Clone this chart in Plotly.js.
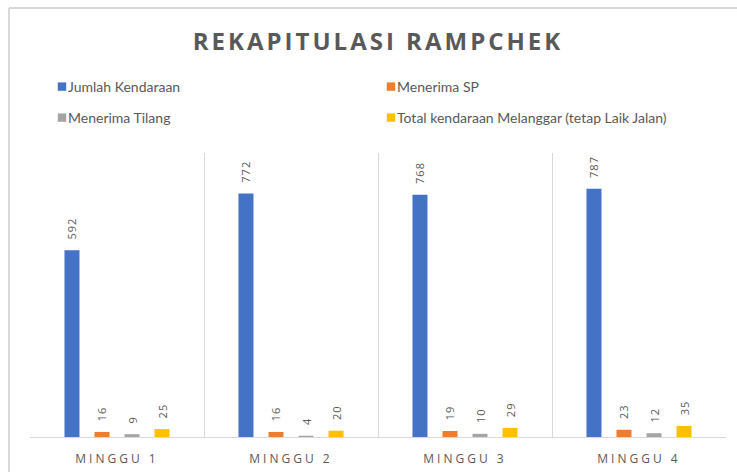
<!DOCTYPE html>
<html>
<head>
<meta charset="utf-8">
<script src="https://cdn.plot.ly/plotly-3.0.1.min.js"></script>
<style>
  html, body { margin: 0; padding: 0; background: #fff; }
  #chart { width: 737px; height: 472px; }
  .gtitle { letter-spacing: 3px; }
  .xtick text { letter-spacing: 3px; }
  text.bartext { letter-spacing: 1px; }
  .legendpoints { transform-box: fill-box; transform-origin: center; transform: translate(14px, 0px) scale(0.7); }
</style>
</head>
<body>
<div id="chart"></div>
<script>
const categories = ["MINGGU 1", "MINGGU 2", "MINGGU 3", "MINGGU 4"];
const seriesNames = ["Jumlah Kendaraan", "Menerima SP", "Menerima Tilang", "Total kendaraan Melanggar (tetap Laik Jalan)"];
const jumlahKendaraan = [592, 772, 768, 787];
const menerimaSP = [16, 16, 19, 23];
const menerimaTilang = [9, 4, 10, 12];
const totalMelanggar = [25, 20, 29, 35];
const colors = ["#4472C4", "#ED7D31", "#A5A5A5", "#FFC000"];
const legendIds = ["legend", "legend", "legend2", "legend2"];

const seriesValues = [jumlahKendaraan, menerimaSP, menerimaTilang, totalMelanggar];
const labelFont = { family: "Open Sans, sans-serif", size: 11, color: "#595959" };

const traces = seriesValues.map((vals, i) => ({
  type: "bar",
  name: seriesNames[i],
  x: categories,
  y: vals,
  marker: { color: colors[i] },
  text: vals.map(v => "\u00a0\u00a0" + v),
  textposition: "outside",
  textangle: -90,
  textfont: labelFont,
  constraintext: "none",
  cliponaxis: false,
  legend: legendIds[i],
  hoverinfo: "x+y+name"
}));

const W = 737, H = 472;
const m = { l: 30, r: 11, t: 153, b: 35 };
const pw = W - m.l - m.r, ph = H - m.t - m.b;
const px = x => (x - m.l) / pw;
const py = y => (H - m.b - y) / ph;

const legendCommon = {
  orientation: "h",
  xanchor: "left",
  yanchor: "middle",
  x: px(28),
  font: { family: "Lato, sans-serif", size: 14, color: "#595959" },
  entrywidth: 284,
  entrywidthmode: "pixels",
  bgcolor: "rgba(0,0,0,0)",
  itemclick: false
};

const layout = {
  width: W, height: H,
  margin: m,
  paper_bgcolor: "#fff",
  plot_bgcolor: "#fff",
  title: {
    text: "REKAPITULASI RAMPCHEK",
    font: { family: "Open Sans, sans-serif", size: 24, weight: 700, color: "#595959" },
    x: 378 / W,
    xanchor: "center",
    xref: "container",
    y: 1 - 42 / H,
    yanchor: "middle",
    yref: "container"
  },
  barmode: "group",
  bargap: 0.31,
  bargroupgap: 0.5,
  showlegend: true,
  legend: Object.assign({}, legendCommon, { y: py(87) }),
  legend2: Object.assign({}, legendCommon, { y: py(118) }),
  xaxis: {
    type: "category",
    tickson: "boundaries",
    showgrid: true,
    gridcolor: "#d9d9d9",
    gridwidth: 1,
    showline: true,
    linecolor: "#d9d9d9",
    linewidth: 1,
    ticks: "",
    ticklabelstandoff: 11,
    tickfont: { family: "Open Sans, sans-serif", size: 12, color: "#595959" },
    fixedrange: true
  },
  yaxis: {
    range: [0, 900],
    visible: false,
    showgrid: false,
    zeroline: false,
    fixedrange: true
  },
  shapes: [
    { type: "line", xref: "paper", yref: "paper", x0: px(9), x1: px(9), y0: py(472), y1: py(8), line: { color: "#d9d9d9", width: 2 } },
    { type: "line", xref: "paper", yref: "paper", x0: px(9), x1: px(737), y0: py(8), y1: py(8), line: { color: "#d9d9d9", width: 2 } }
  ]
};

Plotly.newPlot("chart", traces, layout, { displayModeBar: false, staticPlot: true });
</script>
</body>
</html>
